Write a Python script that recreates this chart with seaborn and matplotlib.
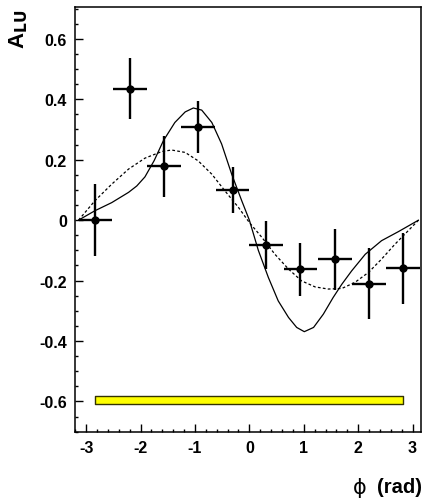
import numpy as np
import pandas as pd
import matplotlib
matplotlib.use("Agg")
import matplotlib.pyplot as plt
import seaborn as sns
from matplotlib.ticker import MultipleLocator, FuncFormatter

# ---- data ----
phi = [-2.83, -2.20, -1.57, -0.94, -0.31, 0.31, 0.94, 1.57, 2.20, 2.83]
alu = [0.000, 0.434, 0.179, 0.309, 0.100, -0.083, -0.162, -0.129, -0.210, -0.159]
err_lo = [0.120, 0.100, 0.101, 0.087, 0.075, 0.079, 0.088, 0.103, 0.116, 0.117]
err_hi = [0.121, 0.101, 0.098, 0.086, 0.077, 0.081, 0.086, 0.099, 0.117, 0.118]
phi_err = [0.31] * 10

# systematic band
band_lo = [-0.607] * 10
band_hi = [-0.583] * 10

# solid model curve (read points)
solid_x = [-3.14, -2.84, -2.53, -2.22, -2.07, -1.92, -1.75, -1.58, -1.37, -1.18, -1.03,
           -0.876, -0.69, -0.51, -0.325, -0.14, 0.0, 0.165, 0.35, 0.53, 0.72,
           0.87, 1.01, 1.18, 1.36, 1.54, 1.70, 1.88, 2.13, 2.43, 2.74, 3.11]
solid_y = [0.0, 0.031, 0.058, 0.092, 0.113, 0.143, 0.197, 0.263, 0.323, 0.358, 0.371,
           0.364, 0.323, 0.252, 0.152, 0.064, 0.0, -0.10, -0.19, -0.267, -0.322,
           -0.355, -0.369, -0.355, -0.311, -0.256, -0.212, -0.168, -0.113, -0.068, -0.038, 0.0]

# dashed model curve (read points)
dash_x = [-3.14, -2.84, -2.53, -2.22, -1.92, -1.61, -1.43, -1.18, -0.94, -0.69,
          -0.45, -0.20, 0.0, 0.23, 0.47, 0.72, 0.96, 1.21, 1.45, 1.70,
          1.94, 2.19, 2.43, 2.68, 2.92, 3.11]
dash_y = [0.0, 0.064, 0.119, 0.169, 0.205, 0.227, 0.232, 0.224, 0.196, 0.152,
          0.097, 0.042, -0.008, -0.057, -0.113, -0.162, -0.201, -0.221, -0.228, -0.226,
          -0.206, -0.173, -0.129, -0.079, -0.035, 0.0]

x_ticks = [-3, -2, -1, 0, 1, 2, 3]
y_ticks = [-0.6, -0.4, -0.2, 0, 0.2, 0.4, 0.6]

sns.set_style("white")
plt.rcParams['font.family'] = ['Liberation Sans', 'DejaVu Sans']
plt.rcParams['text.color'] = 'black'
plt.rcParams['xtick.color'] = 'black'
plt.rcParams['ytick.color'] = 'black'
plt.rcParams['xtick.labelcolor'] = 'black'
plt.rcParams['ytick.labelcolor'] = 'black'

fig = plt.figure(figsize=(4.23, 5.02), dpi=100)
ax = fig.add_axes([0.178, 0.138, 0.8166, 0.846])

df_s = pd.DataFrame({"x": solid_x, "y": solid_y})
df_d = pd.DataFrame({"x": dash_x, "y": dash_y})
sns.lineplot(data=df_s, x="x", y="y", ax=ax, color="black", lw=0.9, sort=False, estimator=None)
sns.lineplot(data=df_d, x="x", y="y", ax=ax, color="black", lw=0.9, sort=False, estimator=None,
             linestyle=(0, (2.2, 1.8)))

ax.fill_between(phi, band_lo, band_hi, facecolor="#ffff00", edgecolor="#333300", lw=1.0, zorder=2)

ax.errorbar(phi, alu, yerr=[err_lo, err_hi], xerr=phi_err, fmt="none",
            ecolor="black", elinewidth=1.7, capsize=0, zorder=3)
df_p = pd.DataFrame({"phi": phi, "alu": alu})
sns.scatterplot(data=df_p, x="phi", y="alu", ax=ax, color="black", s=36,
                edgecolor="black", linewidth=0, zorder=4)

ax.set_xlim(-3.2, 3.15)
ax.set_ylim(-0.70, 0.705)
ax.set_xticks(x_ticks)
ax.set_yticks(y_ticks)
ax.xaxis.set_minor_locator(MultipleLocator(0.2))
ax.yaxis.set_minor_locator(MultipleLocator(0.05))

def yfmt(v, pos):
    if abs(v) < 1e-9:
        return "0"
    return ("%.1f" % v)
ax.yaxis.set_major_formatter(FuncFormatter(yfmt))
ax.xaxis.set_major_formatter(FuncFormatter(lambda v, p: "%d" % round(v)))

ax.tick_params(axis="both", which="both", direction="in", top=False, right=False,
               left=True, bottom=True, color="black", labelcolor="black", width=1.0)
ax.tick_params(axis="both", which="major", length=5.5, labelsize=11.5)
ax.tick_params(axis="both", which="minor", length=2.5)
ax.tick_params(axis="y", which="major", pad=6)
ax.tick_params(axis="x", which="major", pad=6)
for lab in ax.get_xticklabels() + ax.get_yticklabels():
    lab.set_fontweight("bold")

for sp in ax.spines.values():
    sp.set_color("black")
    sp.set_linewidth(1.1)

ax.set_xlabel("")
ax.set_ylabel("")
fig.text(0.045, 0.980, r"A$_{\mathbf{LU}}$", rotation=90, ha="center", va="top",
         fontsize=16, fontweight="bold", color="black")
fig.text(0.866, 0.027, "ϕ", ha="right", va="center", fontsize=15, fontweight="normal",
         family=['DejaVu Sans'], color="black")
fig.text(0.997, 0.029, "(rad)", ha="right", va="center", fontsize=14.5, fontweight="bold",
         color="black")

fig.savefig("out.png", dpi=100)
